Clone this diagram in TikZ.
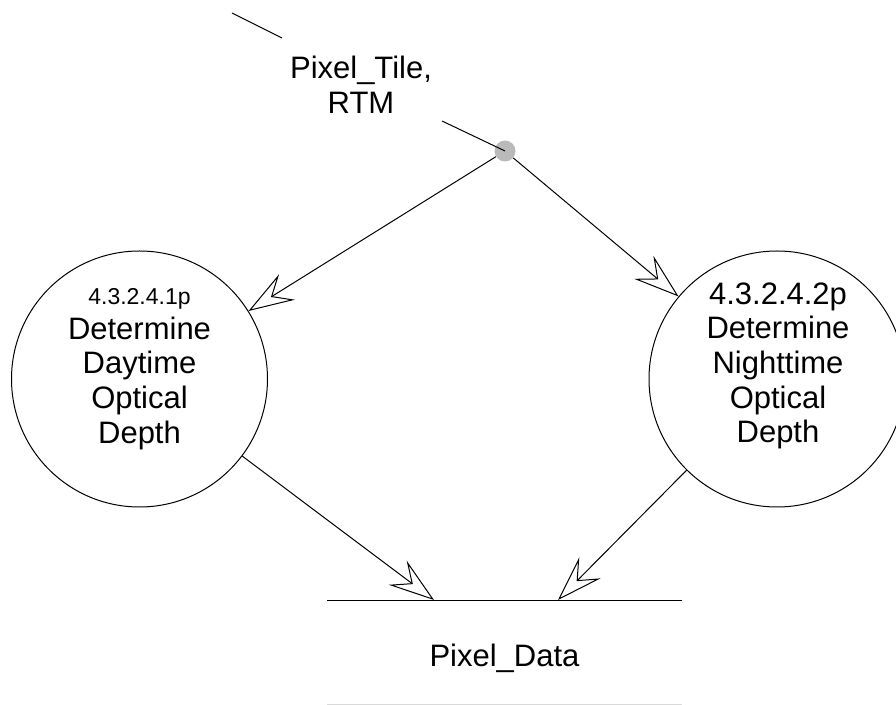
\documentclass[tikz,border=0pt]{standalone}
\usepackage{fontspec}
\setmainfont{Liberation Sans}
\usetikzlibrary{arrows.meta}

\tikzset{
  flow/.style={line width=0.75pt, draw=black,
    -{Stealth[fill=white, length=34pt, width=22.5pt, inset=13pt, line width=0.75pt]}},
  plain/.style={line width=0.75pt, draw=black},
  process/.style={circle, draw=black, line width=0.75pt, minimum size=192pt, inner sep=0pt},
  junctiondot/.style={circle, fill=black!27, draw=none, minimum size=15.75pt, inner sep=0pt},
  lbl/.style={align=center, inner sep=0pt, font=\fontsize{23.25pt}{26pt}\selectfont}
}

\begin{document}
\begin{tikzpicture}[x=0.75pt, y=-0.75pt]
  \useasboundingbox (0,0) rectangle (896,705);

  % processes
  \node[process] (day) at (139.5,379) {};
  \node[process] (night) at (777,379) {};
  \node[lbl] (dayTxt) at (139.5,369) {{\fontsize{17.25pt}{26pt}\selectfont 4.3.2.4.1p}\\Determine\\Daytime\\Optical\\Depth};
  \node[lbl] (nightTxt) at (778,366) {4.3.2.4.2p\\Determine\\Nighttime\\Optical\\Depth};

  % incoming flow and its split point
  \node[junctiondot] (junction) at (505,151) {};
  \coordinate (src) at (232,13);
  \coordinate (gapA) at (282,38);
  \coordinate (gapB) at (442,121);
  \node[lbl] (tileLbl) at (361,84.5) {Pixel\_Tile,\\RTM};
  \draw[plain] (src) -- (gapA);
  \draw[plain] (gapB) -- (junction.center);

  % data store
  \coordinate (storeTL) at (327,600);
  \coordinate (storeTR) at (682,600);
  \coordinate (storeBL) at (327,704);
  \coordinate (storeBR) at (682,704);
  \draw[plain] (storeTL) -- (storeTR);
  \draw[line width=0.75pt, draw=black!15] (storeBL) -- (storeBR);
  \node[lbl, anchor=base] (dataLbl) at (504.5,666.7) {Pixel\_Data};
  \coordinate (inDay) at (434,600);
  \coordinate (inNight) at (558,600);

  % flows
  \draw[flow] (junction) -- (day);
  \draw[flow] (junction) -- (night);
  \draw[flow] (day) -- (inDay);
  \draw[flow] (night) -- (inNight);
\end{tikzpicture}
\end{document}
